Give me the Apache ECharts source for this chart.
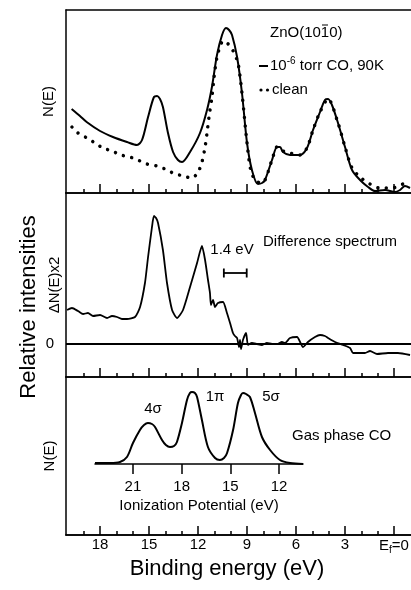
<!DOCTYPE html>
<html><head><meta charset="utf-8">
<script src="https://cdn.jsdelivr.net/npm/echarts@6/dist/echarts.min.js"></script>
<style>html,body{margin:0;padding:0;background:#fff}#c{width:411px;height:590px}</style>
</head><body><div id="c"></div>
<script>
// ---- axis ticks / labels ----
const bindingMajorTicks = [18, 15, 12, 9, 6, 3, 0];
const bindingMinorTicks = [19, 17, 16, 14, 13, 11, 10, 8, 7, 5, 4, 2, 1];
const ionizationTicks = [21, 18, 15, 12];

// ---- panel 1: N(E), 1e-6 torr CO at 90K (solid) ----
const coBindingEV = [19.74,19.23,18.82,18.00,17.21,16.35,15.74,15.43,15.06,14.70,14.51,14.33,14.15,13.84,13.53,13.23,12.98,12.49,11.88,11.45,11.15,10.84,10.53,10.29,10.10,9.92,9.61,9.31,9.00,8.70,8.33,8.08,7.90,7.47,7.16,6.98,6.80,6.37,5.76,5.33,4.96,4.53,4.23,4.04,3.80,3.43,3.00,2.57,2.08,1.59,1.16,0.55,-0.06,-0.37,-0.67,-0.98];
const coIntensity = [84,77,71,62,56,51,48,53,76,96,97,94,86,60,41,33,31,41,60,83,106,138,158,165,163,158,136,100,50,23,9,10,13,33,46,46,41,38,38,45,63,81,93,94,88,70,46,23,13,6,2,3,1,3,7,5];

// ---- panel 1: clean surface (dotted) ----
const cleanBindingEV = [19.72,19.35,18.80,18.31,17.82,17.27,16.72,16.17,15.68,15.13,14.51,14.02,13.53,12.92,12.37,12.00,11.76,11.57,11.45,11.33,11.15,11.02,10.84,10.66,10.47,10.23,9.98,9.74,9.55,9.31,9.00,8.76,8.45,8.08,7.47,7.16,6.80,6.37,5.76,5.33,4.96,4.53,4.04,3.43,3.00,2.57,2.08,1.47,0.86,0.12,-0.55,-0.98];
const cleanIntensity = [66,60,55,50,45,42,38,36,33,29,27,24,20,17,15,21,31,46,60,76,96,116,136,146,152,150,146,138,130,100,50,22,12,10,33,46,42,40,38,45,63,81,94,70,46,25,16,9,5,5,9,10];

// ---- panel 2: difference spectrum dN(E)x2 ----
const diffBindingEV = [20.02,19.72,19.35,19.04,18.74,18.43,18.00,17.57,17.27,16.96,16.66,16.35,15.86,15.55,15.25,15.06,14.82,14.70,14.57,14.45,14.15,13.90,13.59,13.29,12.92,12.49,12.06,11.76,11.57,11.39,11.27,11.21,11.08,10.96,10.78,10.47,10.23,10.04,9.86,9.74,9.61,9.49,9.43,9.37,9.25,9.06,8.94,8.70,8.39,8.08,7.78,7.47,7.16,6.86,6.67,6.37,5.94,5.57,5.27,4.84,4.53,4.23,4.04,3.61,3.12,2.69,2.51,2.08,1.78,1.47,1.04,0.37,-0.24,-0.98];
const diffIntensity = [34,36,33,30,31,28,29,26,28,27,25,25,27,37,61,87,117,128,126,121,94,61,34,26,34,57,81,98,84,64,51,39,44,37,41,42,31,21,11,8,6,-3,4,-5,4,11,-1,1,0,-1,1,0,0,2,1,6,7,-3,2,7,9,8,6,2,-1,-4,-9,-9,-9,-7,-10,-9,-9,-11];

// ---- 1.4 eV scale bar ----
const barEV = [10.42, 9.02];
const barLevel = [71, 71];

// ---- panel 3 inset: gas phase CO vs ionization potential ----
const gasIP = [23.34,22.42,21.80,21.37,21.00,20.57,20.32,20.08,19.83,19.64,19.21,18.97,18.72,18.47,18.29,17.98,17.67,17.49,17.36,17.18,17.05,16.75,16.38,15.94,15.64,15.39,15.20,14.83,14.53,14.34,14.22,14.03,13.79,13.48,13.05,12.55,11.94,11.32,10.52];
const gasIntensity = [1,1,2,7,21,34,39,41,40,37,24,19,17,18,22,41,64,71,72,71,67,44,17,6,4,6,11,34,61,69,71,70,67,51,27,14,4,1,0];

const FONT = '"Liberation Sans", Arial, Helvetica, sans-serif';
const EV_MIN = -1.04, EV_MAX = 20.085;
const zip = (xs, ys) => xs.map((x, i) => [x, ys[i]]);
const BLACK = '#000';

function bottomAxis(grid, major, labels) {
  return {
    type: 'value', gridIndex: grid, min: EV_MIN, max: EV_MAX, inverse: true, position: 'bottom',
    axisLine: { show: true, onZero: false, lineStyle: { color: BLACK, width: 1.5 } },
    axisTick: { show: true, inside: true, length: major ? 9 : 4,
      customValues: major ? bindingMajorTicks : bindingMinorTicks,
      lineStyle: { color: BLACK, width: 1.5 } },
    axisLabel: labels ? {
      show: true, customValues: bindingMajorTicks, margin: 2, fontSize: 15, color: BLACK, fontFamily: FONT,
      formatter: v => v === 0 ? 'E{sub|f}=0' : String(v),
      rich: { sub: { fontSize: 10, fontFamily: FONT, color: BLACK, padding: [8, 0, 0, 0] } }
    } : { show: false },
    splitLine: { show: false },
    name: labels ? 'Binding energy (eV)' : '',
    nameLocation: 'middle', nameGap: 23, nameMoveOverlap: false,
    nameTextStyle: { fontSize: 22, color: BLACK, fontFamily: FONT, padding: [0, 23, 0, 0] }
  };
}

function leftAxis(grid, min, max, name, gap, zeroLabel) {
  return {
    type: 'value', gridIndex: grid, min: min, max: max, position: 'left',
    axisLine: { show: true, onZero: false, lineStyle: { color: BLACK, width: 1.5 } },
    axisTick: zeroLabel ? { show: true, inside: true, length: 5, customValues: [0], lineStyle: { color: BLACK, width: 1.5 } } : { show: false },
    axisLabel: zeroLabel ? { show: true, customValues: [0], margin: 12, fontSize: 15, color: BLACK, fontFamily: FONT } : { show: false },
    splitLine: { show: false },
    name: name, nameLocation: 'middle', nameGap: gap, nameMoveOverlap: false,
    nameTextStyle: { fontSize: 15, color: BLACK, fontFamily: FONT }
  };
}

const txt = (x, y, text, extra) => Object.assign({
  type: 'text', x: x, y: y, silent: true,
  style: Object.assign({ text: text, fontSize: 15, fontFamily: FONT, fill: BLACK, align: 'left', verticalAlign: 'middle' }, extra || {})
});

const option = {
  animation: false,
  backgroundColor: '#fff',
  textStyle: { fontFamily: FONT, color: BLACK },
  grid: [
    { left: 66, top: 10, width: 345, height: 183, outerBoundsMode: 'none' },
    { left: 66, top: 193, width: 345, height: 184, outerBoundsMode: 'none' },
    { left: 66, top: 377, width: 345, height: 158, outerBoundsMode: 'none' },
    { left: 95, top: 385, width: 208, height: 79, outerBoundsMode: 'none' }
  ],
  xAxis: [
    bottomAxis(0, true, false),
    bottomAxis(0, false, false),
    { type: 'value', gridIndex: 0, min: EV_MIN, max: EV_MAX, inverse: true, position: 'top',
      axisLine: { show: true, onZero: false, lineStyle: { color: BLACK, width: 1.5 } },
      axisTick: { show: false }, axisLabel: { show: false }, splitLine: { show: false } },
    bottomAxis(1, true, false),
    bottomAxis(1, false, false),
    bottomAxis(2, true, true),
    bottomAxis(2, false, false),
    { type: 'value', gridIndex: 3, min: 10.52, max: 23.34, inverse: true, position: 'bottom',
      axisLine: { show: true, onZero: false, lineStyle: { color: BLACK, width: 1.5 } },
      axisTick: { show: true, inside: false, length: 10, customValues: ionizationTicks, lineStyle: { color: BLACK, width: 1.5 } },
      axisLabel: { show: true, customValues: ionizationTicks, margin: 15, fontSize: 15, color: BLACK, fontFamily: FONT },
      splitLine: { show: false },
      name: 'Ionization Potential (eV)', nameLocation: 'middle', nameGap: 34, nameMoveOverlap: false,
      nameTextStyle: { fontSize: 15, color: BLACK, fontFamily: FONT } }
  ],
  yAxis: [
    leftAxis(0, 0, 183, 'N(E)', 10, false),
    leftAxis(1, -33, 151, 'ΔN(E)x2', 4, true),
    leftAxis(2, 0, 1, 'N(E)', 9, false),
    { type: 'value', gridIndex: 3, min: 0, max: 79, show: false }
  ],
  series: [
    { type: 'line', name: '10-6 torr CO, 90K', xAxisIndex: 0, yAxisIndex: 0, data: zip(coBindingEV, coIntensity),
      showSymbol: false, symbol: 'none', smooth: 0.3, lineStyle: { color: BLACK, width: 2 } },
    { type: 'line', name: 'clean', xAxisIndex: 0, yAxisIndex: 0, data: zip(cleanBindingEV, cleanIntensity),
      showSymbol: false, symbol: 'none', smooth: 0.3,
      lineStyle: { color: BLACK, width: 3.5, type: [0.01, 8.5], cap: 'round' } },
    { type: 'line', name: 'Difference spectrum', xAxisIndex: 3, yAxisIndex: 1, data: zip(diffBindingEV, diffIntensity),
      showSymbol: false, symbol: 'none', smooth: 0.2, lineStyle: { color: BLACK, width: 1.8 },
      markLine: { silent: true, symbol: ['none', 'none'], label: { show: false },
        lineStyle: { color: BLACK, width: 2, type: 'solid' }, data: [{ yAxis: 0 }] } },
    { type: 'line', name: '1.4 eV', xAxisIndex: 3, yAxisIndex: 1, data: zip(barEV, barLevel),
      symbol: 'rect', symbolSize: [1.8, 9], showSymbol: true, itemStyle: { color: BLACK },
      lineStyle: { color: BLACK, width: 1.8 } },
    { type: 'line', name: 'Gas phase CO', xAxisIndex: 7, yAxisIndex: 3, data: zip(gasIP, gasIntensity),
      showSymbol: false, symbol: 'none', smooth: 0.3, lineStyle: { color: BLACK, width: 2 } }
  ],
  graphic: [
    txt(270, 33, 'ZnO(1010)'),
    { type: 'line', silent: true, shape: { x1: 322, y1: 25, x2: 328, y2: 25 }, style: { stroke: BLACK, lineWidth: 1 } },
    { type: 'line', silent: true, shape: { x1: 259, y1: 66, x2: 268, y2: 66 }, style: { stroke: BLACK, lineWidth: 2 } },
    txt(270, 66, '10{sup|-6} torr CO, 90K', { rich: { sup: { fontSize: 10, fontFamily: FONT, fill: BLACK, padding: [0, 0, 10, 0] } } }),
    { type: 'circle', silent: true, shape: { cx: 261, cy: 90, r: 1.6 }, style: { fill: BLACK } },
    { type: 'circle', silent: true, shape: { cx: 267.5, cy: 90, r: 1.6 }, style: { fill: BLACK } },
    txt(272, 90, 'clean'),
    txt(263, 242, 'Difference spectrum'),
    txt(232, 250, '1.4 eV', { align: 'center' }),
    txt(292, 436, 'Gas phase CO'),
    txt(153, 409, '4σ', { align: 'center' }),
    txt(215, 397, '1π', { align: 'center' }),
    txt(271, 397, '5σ', { align: 'center' }),
    Object.assign(txt(29, 307, 'Relative intensities', { fontSize: 22, align: 'center' }), { rotation: Math.PI / 2 })
  ]
};

const chart = echarts.init(document.getElementById('c'), null, { renderer: 'canvas', width: 411, height: 590 });
chart.setOption(option);
</script>
</body></html>
